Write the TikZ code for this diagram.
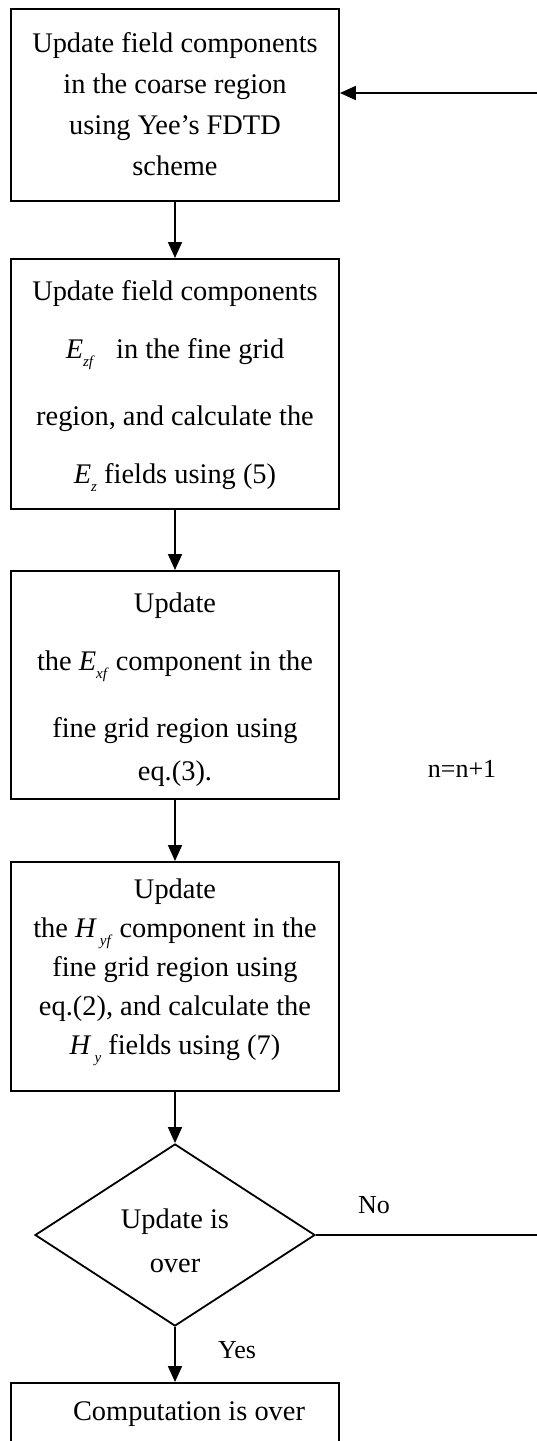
\documentclass[tikz,border=0pt]{standalone}
\usepackage{fontspec}
\setmainfont{Liberation Serif}
\usetikzlibrary{arrows.meta,shapes.geometric}

% field symbol with a lowered italic subscript: \fld[kern]{E}{zf}
\newcommand\fld[3][0pt]{\textit{#2}\kern#1\raisebox{-0.28em}{\fontsize{15}{15}\selectfont\textit{#3}}}
% centred block of lines with a given baseline distance
\newcommand\boxrows[2]{\fontsize{28.4}{#1}\selectfont\begin{tabular}[t]{@{}c@{}}#2\end{tabular}}

\begin{document}
\begin{tikzpicture}[x=1pt,y=-1pt,
  every node/.style={inner sep=0pt},
  stepbox/.style={draw, line width=1.8pt, minimum width=328pt, anchor=north},
  decide/.style={draw, diamond, line width=1.8pt, minimum width=280pt, minimum height=165pt},
  flow/.style={line width=1.8pt, -{Triangle[length=16pt,width=14pt]}},
  lbl/.style={font=\fontsize{26}{26}\selectfont, anchor=base}]
\useasboundingbox (0,0) rectangle (536,1441);

\node[stepbox, text height=44pt, text depth=148pt] (b1) at (175,8)
  {\boxrows{41}{Update field components\\ in the coarse region\\ using Yee’s FDTD\\ scheme}};

\node[stepbox, text height=42pt, text depth=208pt] (b2) at (175,258)
  {\boxrows{58}{Update field components\\ \fld{E}{zf}\hspace{0.5em} in the fine grid\\[9pt] region, and calculate the\\ \fld{E}{z} fields using (5)}};

\node[stepbox, text height=42pt, text depth=186pt] (b3) at (175,570)
  {\boxrows{58}{Update\\ the \fld{E}{xf} component in the\\[9pt] fine grid region using\\[-15pt] eq.(3).}};

\node[stepbox, text height=37pt, text depth=192pt] (b4) at (175,861)
  {\boxrows{39}{Update\\ the \fld[3pt]{H}{yf} component in the\\ fine grid region using\\ eq.(2), and calculate the\\ \fld[3pt]{H}{y} fields using (7)}};

\node[decide, text height=30pt, text depth=44pt] (dec) at (175,1235)
  {\boxrows{44}{Update is\\ over}};

\node[stepbox, text height=38pt, text depth=60pt] (b5) at (175,1382)
  {\boxrows{41}{\hspace*{28pt}Computation is over}};

\node[lbl] (no) at (374,1213) {No};
\node[lbl] (yes) at (237,1358) {Yes};
\node[lbl] (inc) at (462,777) {n=n+1};

% return path of the loop runs along the right-hand margin
\coordinate (r1) at (541,1235);
\coordinate (r2) at (541,93);

\draw[flow] (b1) -- (b2);
\draw[flow] (b2) -- (b3);
\draw[flow] (b3) -- (b4);
\draw[flow] (b4) -- (dec);
\draw[flow] (dec) -- (b5);
\draw[flow] (dec.east) -- (r1) -- (r2) -- (b1.east |- r2);
\end{tikzpicture}
\end{document}
